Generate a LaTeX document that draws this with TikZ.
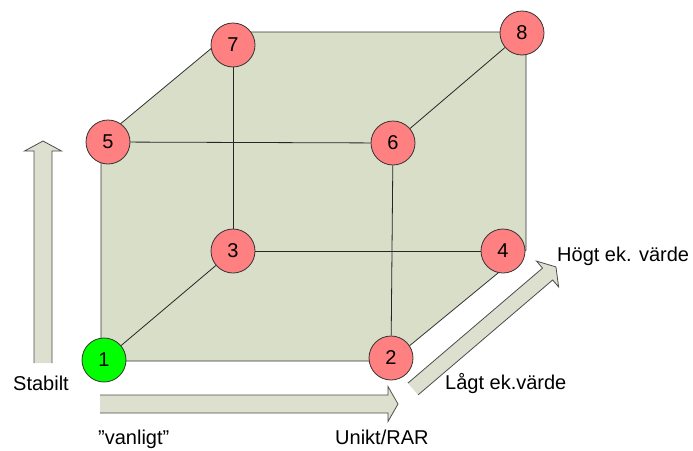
\documentclass[tikz,border=0pt]{standalone}
\usepackage{fontspec}
\setmainfont{Liberation Sans}
\usetikzlibrary{backgrounds}
\definecolor{cubefill}{RGB}{217,222,201}
\definecolor{arrfill}{RGB}{221,224,206}
\definecolor{nodered}{RGB}{255,128,128}
\definecolor{nodegreen}{RGB}{0,255,0}
\begin{document}
\begin{tikzpicture}[x=1pt,y=-1pt,
  vert/.style={circle,draw=black!80,line width=0.8pt,fill=nodered,minimum size=44pt,inner sep=0pt,
    font=\fontsize{20}{24}\selectfont},
  startvert/.style={vert,fill=nodegreen},
  edge/.style={draw=black!85,line width=0.8pt},
  lbl/.style={font=\fontsize{20}{24}\selectfont,inner sep=0pt},
  arrbody/.style={fill=arrfill},
  arredge/.style={draw=black!70,line width=0.8pt,line join=miter}]
\useasboundingbox (0,0) rectangle (693,450);

% vertices
\node[startvert] (n1) at (104,360) {1};
\node[vert] (n2) at (391,358) {2};
\node[vert] (n3) at (233,251) {3};
\node[vert] (n4) at (503,251) {4};
\node[vert] (n5) at (108,142) {5};
\node[vert] (n6) at (393,143) {6};
\node[vert] (n7) at (233,45) {7};
\node[vert] (n8) at (522,33) {8};

\begin{pgfonlayer}{background}
% cube body
\filldraw[fill=cubefill,draw=black!80,line width=0.8pt]
  (101,361) -- (101,140) -- (231,32) -- (526,32) -- (526,250) -- (391,361) -- cycle;
% interior edges
\path[edge] (n5) -- (n6);
\path[edge] (n6) -- (n2);
\path[edge] (n7) -- (n3);
\path[edge] (n3) -- (n4);
\path[edge] (n1) -- (n3);
\path[edge] (n6) -- (n8);
\end{pgfonlayer}

% block arrows
% vertical (Stabilt)
\begin{scope}[shift={(43,363)},rotate=90]
  \fill[arrbody] (0,-9) -- (212,-9) -- (212,-18.5) -- (222,0) -- (212,18.5) -- (212,9) -- (0,9) -- cycle;
  \draw[arredge] (0,-9) -- (212,-9) -- (212,-18.5) -- (222,0) -- (212,18.5) -- (212,9) -- (0,9);
\end{scope}
% horizontal
\begin{scope}[shift={(100,404)}]
  \fill[arrbody] (0,-9) -- (288,-9) -- (288,-17.5) -- (298,0) -- (288,17.5) -- (288,9) -- (0,9) -- cycle;
  \draw[arredge] (0,-9) -- (288,-9) -- (288,-17.5) -- (298,0) -- (288,17.5) -- (288,9) -- (0,9);
\end{scope}
% diagonal
\begin{scope}[shift={(413,389)},rotate=40.5]
  \fill[arrbody] (0,-7.8) -- (177,-7.8) -- (177,-17) -- (188,0) -- (177,17) -- (177,7.8) -- (0,7.8) -- cycle;
  \draw[arredge] (0,-7.8) -- (177,-7.8) -- (177,-17) -- (188,0) -- (177,17) -- (177,7.8) -- (0,7.8);
\end{scope}

% labels
\node[lbl,anchor=base west] (tStab) at (13,390) {Stabilt};
\node[lbl,anchor=base west] (tVan) at (98,444) {”vanligt”};
\node[lbl,anchor=base west] (tUni) at (335,444) {Unikt/RAR};
\node[lbl,anchor=base west] (tHog) at (557,261) {Högt ek. värde};
\node[lbl,anchor=base west] (tLag) at (445,389) {Lågt ek.värde};
\end{tikzpicture}
\end{document}
